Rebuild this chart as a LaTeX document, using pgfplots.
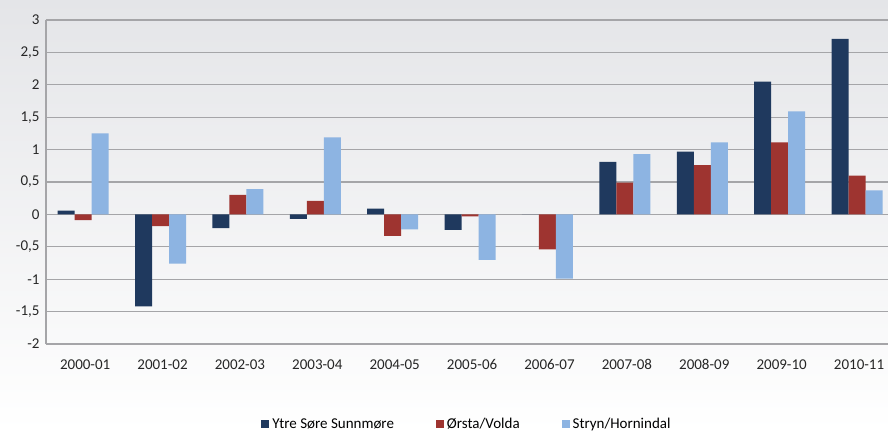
\documentclass[border=0pt]{standalone}
\usepackage{pgfplots}
\pgfplotsset{compat=1.18}
\usepackage{fontspec}
\setmainfont{Carlito}
\definecolor{cY}{RGB}{31,57,94}
\definecolor{cO}{RGB}{158,52,48}
\definecolor{cS}{RGB}{141,180,226}
\definecolor{bgtop}{RGB}{228,229,232}
\definecolor{gridc}{RGB}{165,165,168}
\pgfplotstableread{
x Y O S
0 0.06 -0.09 1.25
1 -1.42 -0.18 -0.76
2 -0.21 0.30 0.39
3 -0.07 0.21 1.19
4 0.09 -0.33 -0.23
5 -0.24 -0.03 -0.70
6 0.00 -0.54 -0.99
7 0.81 0.49 0.93
8 0.97 0.76 1.11
9 2.05 1.11 1.59
10 2.71 0.60 0.37
}\data
\begin{document}
\begin{tikzpicture}[x=1pt,y=1pt]
\shade[top color=bgtop, bottom color=white] (0,0) rectangle (888,431);
\useasboundingbox (0,0) rectangle (888,431);
\begin{axis}[
  at={(46pt,87pt)}, anchor=south west,
  scale only axis, width=842pt, height=324pt,
  xmin=-0.48, xmax=10.4, ymin=-2, ymax=3,
  ytick={-2,-1.5,...,3},
  xtick=data,
  xticklabels={2000-01,2001-02,2002-03,2003-04,2004-05,2005-06,2006-07,2007-08,2008-09,2009-10,2010-11},
  ybar=0pt, bar width=17pt,
  ymajorgrids, grid style={gridc, line width=1.2pt},
  axis x line*=bottom, axis y line*=left,
  axis line style={gridc, line width=1.2pt, -},
  major tick length=0pt,
  /pgf/number format/use comma,
  /pgf/number format/assume math mode=true,
  ticklabel style={font=\fontsize{15}{17}\selectfont, text=black!85},
  yticklabel style={xshift=-3pt},
  xticklabel style={yshift=-12pt, xshift=2pt},
  legend style={at={(0.5,-0.247)}, anchor=center, draw=none, fill=none,
    font=\fontsize{15}{17}\selectfont, legend columns=3,
    /tikz/every odd column/.append style={column sep=1pt},
    /tikz/every even column/.append style={column sep=40pt}},
  legend image code/.code={\fill[#1] (0pt,-4pt) rectangle (8pt,4pt);},
]
\addplot[fill=cY, draw=none] table[x=x,y=Y]{\data};
\addplot[fill=cO, draw=none] table[x=x,y=O]{\data};
\addplot[fill=cS, draw=none] table[x=x,y=S]{\data};
\legend{Ytre Søre Sunnmøre, Ørsta/Volda, Stryn/Hornindal}
\end{axis}
\end{tikzpicture}
\end{document}
